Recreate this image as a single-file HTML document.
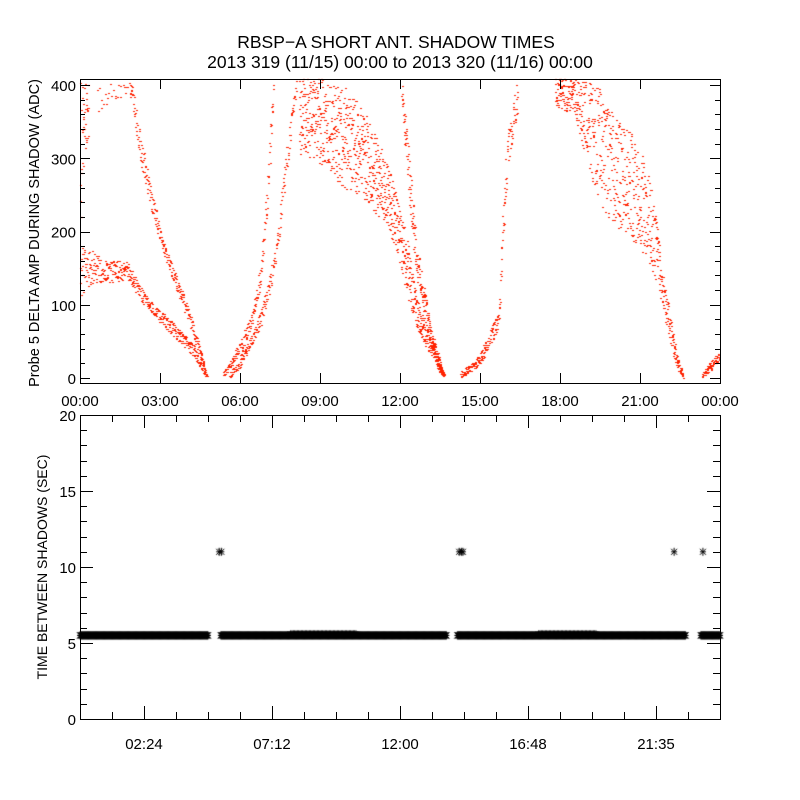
<!DOCTYPE html>
<html><head><meta charset="utf-8"><style>
body{margin:0;background:#fff;}
#wrap{position:relative;width:800px;height:800px;overflow:hidden;background:#fff;font-family:"Liberation Sans",sans-serif;}
canvas,svg{position:absolute;left:0;top:0;}
</style></head><body>
<div id="wrap">
<canvas id="cv" width="800" height="800"></canvas>
<svg id="ax" width="800" height="800"></svg>
</div>
<script>
// ---- top panel data: branches of (hour, low, high) ----
const brA_hours=[0,0.4,0.75,1.2,1.75,2.25,2.75,3.25,3.75,4.25,4.6,4.75];
const brA_low  =[110,125,130,130,135,105,85,65,48,28,8,0];
const brA_high =[180,175,165,160,160,125,100,85,65,45,20,4];
const brA2_hours=[0.0,0.15,0.3];
const brA2_low =[200,300,330];
const brA2_high=[405,405,405];
const brA3_hours=[0.6,1.0,1.6,1.85];
const brA3_low =[360,375,380,385];
const brA3_high=[405,405,405,405];
const brB_hours=[1.85,2.0,2.25,2.75,3.1,3.5,3.9,4.1,4.5,4.7];
const brB_low  =[380,360,290,215,170,130,90,70,25,0];
const brB_high =[405,400,330,245,190,150,110,90,40,8];
const brC_hours=[5.35,6.0,6.5,6.75,7.0,7.25];
const brC_low  =[0,30,80,125,220,380];
const brC_high =[8,50,100,155,280,410];
const brD_hours=[5.6,6.0,6.75,7.25,7.6,7.9,8.1];
const brD_low  =[0,15,70,135,230,330,390];
const brD_high =[8,25,90,165,270,370,410];
const brE_hours=[8.2,9.0,10.0,10.5,11.0,11.5,11.9,12.2,12.6,13.0,13.4,13.65];
const brE_low  =[300,290,255,245,225,210,165,120,70,40,12,0];
const brE_high =[410,410,395,375,340,295,245,200,110,70,30,5];
const brF_hours=[12.05,12.3,12.6,13.1,13.6];
const brF_low  =[380,250,140,50,0];
const brF_high =[410,320,190,80,8];
const brG_hours=[14.25,14.6,15.0,15.4,15.7,15.8,16.0,16.4];
const brG_low  =[0,8,18,45,70,140,280,360];
const brG_high =[8,18,35,70,100,200,340,410];
const brH_hours=[17.8,18.5,19.4,20.0,20.5,21.0,21.5,21.8,22.1,22.4,22.6];
const brH_low  =[370,360,240,210,195,175,140,100,50,10,0];
const brH_high =[410,410,400,360,340,320,250,150,90,30,6];
const brI_hours=[23.3,23.6,24.0];
const brI_low  =[0,8,25];
const brI_high =[6,20,40];
const branchSets=[[brA_hours,brA_low,brA_high,420],[brA2_hours,brA2_low,brA2_high,40],[brA3_hours,brA3_low,brA3_high,25],[brB_hours,brB_low,brB_high,260],[brC_hours,brC_low,brC_high,170],[brD_hours,brD_low,brD_high,200],[brE_hours,brE_low,brE_high,900],[brF_hours,brF_low,brF_high,220],[brG_hours,brG_low,brG_high,230],[brH_hours,brH_low,brH_high,700],[brI_hours,brI_low,brI_high,70]];
// ---- bottom panel data ----
const segStart=[0,5.28,14.15,23.28];
const segEnd  =[4.8,13.75,22.72,24];
const segValue=[5.5,5.5,5.5,5.5];
const bumpStart=[7.9,17.2];
const bumpEnd  =[10.4,19.4];
const bumpValue=[5.57,5.57];
const outHours=[5.22,5.3,14.22,14.3,14.36,22.28,23.36];
const outValues=[11,11,11,11,11,11,11];
const topYTicks=[0,100,200,300,400];
const topXLabels=["00:00","03:00","06:00","09:00","12:00","15:00","18:00","21:00","00:00"];
const botYTicks=[0,5,10,15,20];
const botXLabels=["02:24","07:12","12:00","16:48","21:35"];

const L=80,R=720;
const xT=h=>L+h*(R-L)/24;
const yTop=v=>378-v*0.7325;
const yBot=v=>719-v*15.2;
const cv=document.getElementById('cv'),ctx=cv.getContext('2d');
function hash(i){let x=Math.sin(i*12.9898+78.233)*43758.5453;return x-Math.floor(x);}
function interp(hs,vs,h){for(let i=0;i<hs.length-1;i++){if(h>=hs[i]&&h<=hs[i+1]){const t=(h-hs[i])/(hs[i+1]-hs[i]);return vs[i]+t*(vs[i+1]-vs[i]);}}return vs[vs.length-1];}
ctx.fillStyle='#ff2200';
let seed=1;
ctx.save();ctx.beginPath();ctx.rect(L,79,R-L,304);ctx.clip();
branchSets.forEach(b=>{const [hs,lo,hi,n]=b;const h0=hs[0],h1=hs[hs.length-1];
 for(let i=0;i<n;i++){const h=h0+(h1-h0)*(i+hash(seed++))/n;const a=interp(hs,lo,h),c=interp(hs,hi,h);const v=a+(c-a)*hash(seed++);
  ctx.fillRect(Math.round(xT(h)),Math.round(yTop(v)),2,1);}});
ctx.restore();
// bottom asterisks
ctx.strokeStyle='#000';ctx.lineWidth=1;
function star(x,y){ctx.beginPath();ctx.moveTo(x-3,y);ctx.lineTo(x+3,y);ctx.moveTo(x,y-4);ctx.lineTo(x,y+4);ctx.moveTo(x-3,y-3);ctx.lineTo(x+3,y+3);ctx.moveTo(x-3,y+3);ctx.lineTo(x+3,y-3);ctx.stroke();}
segStart.forEach((s,i)=>{for(let h=s;h<=segEnd[i];h+=0.02)star(xT(h),yBot(segValue[i]));});
bumpStart.forEach((s,i)=>{for(let h=s;h<=bumpEnd[i];h+=0.05)star(xT(h),yBot(bumpValue[i]));});
outHours.forEach((h,i)=>star(xT(h),yBot(outValues[i])));

// axes
const svg=document.getElementById('ax');const NS='http://www.w3.org/2000/svg';
function add(tag,attrs,name,txt){const e=document.createElementNS(NS,tag);for(const k in attrs)e.setAttribute(k,attrs[k]);
 
 
 if(txt!==undefined)e.textContent=txt;svg.appendChild(e);return e;}
function ln(x1,y1,x2,y2,n){add('line',{x1,y1,x2,y2,stroke:'#000','stroke-width':1,'shape-rendering':'crispEdges'},n);}
const fs={'font-family':'Liberation Sans, sans-serif','font-size':15,fill:'#000'};
add('text',Object.assign({x:396,y:48,'text-anchor':'middle'},fs,{'font-size':17.5}),'chart-title','RBSP\u2212A SHORT ANT. SHADOW TIMES');
add('text',Object.assign({x:400,y:68,'text-anchor':'middle'},fs,{'font-size':17.5}),'chart-subtitle','2013 319 (11/15) 00:00 to 2013 320 (11/16) 00:00');
// top frame
add('rect',{x:80.5,y:79.5,width:640,height:304,fill:'none',stroke:'#000','shape-rendering':'crispEdges'},'top-plot-frame');
for(let v=0;v<=400;v+=20){const y=Math.round(yTop(v))+0.5;const len=v%100===0?10:5;ln(80,y,80+len,y,'top-y-tick');ln(720,y,720-len,y,'top-y-tick');}
topYTicks.forEach(v=>add('text',Object.assign({x:76,y:yTop(v)+6,'text-anchor':'end'},fs),'top-y-tick-label',String(v)));
topXLabels.forEach((t,i)=>{const x=Math.round(xT(i*3))+0.5;ln(x,383,x,373,'top-x-tick');ln(x,79,x,89,'top-x-tick');
 add('text',Object.assign({x:xT(i*3),y:406,'text-anchor':'middle'},fs),'top-x-tick-label',t);});
add('text',Object.assign({x:0,y:0,'text-anchor':'middle',transform:'translate(39,233) rotate(-90)'},fs,{'font-size':14.5}),'top-y-axis-title','Probe 5 DELTA AMP DURING SHADOW (ADC)');
// bottom frame
add('rect',{x:80.5,y:415.5,width:640,height:304,fill:'none',stroke:'#000','shape-rendering':'crispEdges'},'bottom-plot-frame');
for(let v=0;v<=20;v++){const y=Math.round(yBot(v))+0.5;const len=v%5===0?13:7;ln(80,y,80+len,y,'bottom-y-tick');ln(720,y,720-len,y,'bottom-y-tick');}
botYTicks.forEach(v=>add('text',Object.assign({x:76,y:yBot(v)+6,'text-anchor':'end'},fs),'bottom-y-tick-label',String(v)));
for(let k=1;k<20;k++){const x=Math.round(xT(k*1.2))+0.5;const len=k%4===2?13:7;ln(x,719,x,719-len,'bottom-x-tick');ln(x,415,x,415+len,'bottom-x-tick');}
botXLabels.forEach((t,i)=>add('text',Object.assign({x:xT(2.4+i*4.8),y:749,'text-anchor':'middle'},fs),'bottom-x-tick-label',t));
add('text',Object.assign({x:0,y:0,'text-anchor':'middle',transform:'translate(47,567) rotate(-90)'},fs,{'font-size':14}),'bottom-y-axis-title','TIME BETWEEN SHADOWS (SEC)');
</script>
</body></html>
